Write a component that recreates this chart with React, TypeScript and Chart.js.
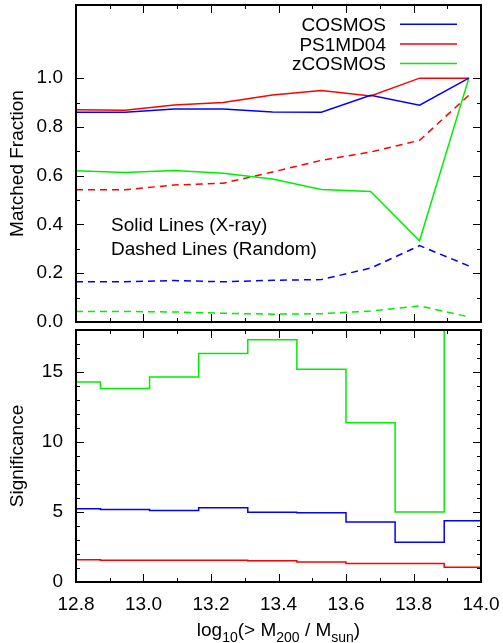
import React, { useEffect, useRef } from 'react';
import { Chart, registerables } from 'chart.js';

Chart.register(...registerables);

const FONT = '"Liberation Sans", Arial, Helvetica, sans-serif';

// bin centres, log10(> M200 / Msun)
const massBins = [12.8, 12.945, 13.091, 13.236, 13.382, 13.527, 13.673, 13.818, 13.964];

const seriesNames = ['COSMOS', 'PS1MD04', 'zCOSMOS'];
const seriesColors = ['#0000ff', '#ff0000', '#00ee00'];

// matched fraction, X-ray (solid)
const cosmosXray = [0.860, 0.860, 0.874, 0.874, 0.861, 0.860, 0.930, 0.889, 1.0];
const ps1Xray = [0.870, 0.868, 0.890, 0.900, 0.931, 0.949, 0.927, 1.0, 1.0];
const zcosmosXray = [0.620, 0.613, 0.621, 0.610, 0.586, 0.543, 0.535, 0.333, 1.0];
// matched fraction, random (dashed)
const cosmosRandom = [0.165, 0.165, 0.170, 0.165, 0.171, 0.174, 0.221, 0.313, 0.230];
const ps1Random = [0.542, 0.542, 0.562, 0.569, 0.615, 0.663, 0.697, 0.745, 0.930];
const zcosmosRandom = [0.043, 0.043, 0.041, 0.036, 0.032, 0.034, 0.045, 0.066, 0.021];

// significance (histogram steps)
const cosmosSig = [5.24, 5.17, 5.10, 5.31, 4.98, 4.95, 4.28, 2.84, 4.38];
const ps1Sig = [1.59, 1.56, 1.56, 1.56, 1.51, 1.42, 1.32, 1.32, 1.06];
const zcosmosSig = [14.28, 13.82, 14.64, 16.32, 17.30, 15.19, 11.37, 5.0, 40];

// tick labels
const massTicks = [12.8, 13.0, 13.2, 13.4, 13.6, 13.8, 14.0];
const massMinorTicks = [12.9, 13.1, 13.3, 13.5, 13.7, 13.9];
const fractionTicks = [0.0, 0.2, 0.4, 0.6, 0.8, 1.0];
const fractionMinorTicks = [0.1, 0.3, 0.5, 0.7, 0.9];
const sigTicks = [0, 5, 10, 15];
const sigMinorTicks = [1, 2, 3, 4, 6, 7, 8, 9, 11, 12, 13, 14, 16, 17];

const noteLines = ['Solid Lines (X-ray)', 'Dashed Lines (Random)'];
const yTitleTop = 'Matched Fraction';
const yTitleBottom = 'Significance';
// [text, isSubscript]
const xTitleParts: [string, boolean][] = [
  ['log', false], ['10', true], ['(> M', false], ['200', true], [' / M', false], ['sun', true], [')', false],
];

function linePoints(values: number[]) {
  return massBins.map((x, i) => ({ x, y: values[i] }));
}

// left edges of each bin (first starts at the first centre), plus closing right edge
function histPoints(values: number[]) {
  const pts: { x: number; y: number }[] = [];
  for (let i = 0; i < massBins.length; i++) {
    const left = i === 0 ? massBins[0] : (massBins[i - 1] + massBins[i]) / 2;
    pts.push({ x: left, y: values[i] });
  }
  const n = massBins.length;
  pts.push({ x: massBins[n - 1] + (massBins[n - 1] - massBins[n - 2]) / 2, y: values[n - 1] });
  return pts;
}

const frameTicks = {
  id: 'frameTicks',
  afterDatasetsDraw(chart: any, _args: any, opts: any) {
    const { ctx, chartArea: a, scales } = chart;
    const xs = scales.x;
    const ys = scales.y;
    ctx.save();
    ctx.strokeStyle = '#000';
    ctx.lineWidth = 1;
    ctx.beginPath();
    const xt = (vals: number[], len: number) => {
      for (const v of vals) {
        const px = Math.round(xs.getPixelForValue(v)) + 0.5;
        ctx.moveTo(px, a.top);
        ctx.lineTo(px, a.top + len);
        ctx.moveTo(px, a.bottom);
        ctx.lineTo(px, a.bottom - len);
      }
    };
    const yt = (vals: number[], len: number) => {
      for (const v of vals) {
        const py = Math.round(ys.getPixelForValue(v)) + 0.5;
        ctx.moveTo(a.left, py);
        ctx.lineTo(a.left + len, py);
        ctx.moveTo(a.right, py);
        ctx.lineTo(a.right - len, py);
      }
    };
    xt(opts.xMajor, 8);
    xt(opts.xMinor, 4);
    yt(opts.yMajor, 8);
    yt(opts.yMinor, 4);
    ctx.stroke();
    ctx.lineWidth = 2;
    ctx.strokeRect(a.left, a.top, a.right - a.left, a.bottom - a.top);
    ctx.restore();
  },
};

const topAnnotations = {
  id: 'topAnnotations',
  afterDraw(chart: any) {
    const { ctx } = chart;
    ctx.save();
    ctx.font = `19px ${FONT}`;
    ctx.fillStyle = '#000';
    ctx.textBaseline = 'alphabetic';
    // legend (text right-aligned, sample line to the right)
    const ds = chart.data.datasets.slice(0, 3);
    ds.forEach((d: any, i: number) => {
      const base = 31 + i * 19.7;
      ctx.textAlign = 'right';
      ctx.fillText(d.label, 386, base);
      ctx.strokeStyle = d.borderColor;
      ctx.lineWidth = 1.5;
      ctx.beginPath();
      ctx.moveTo(400, base - 6.8);
      ctx.lineTo(457, base - 6.8);
      ctx.stroke();
    });
    // notes
    ctx.textAlign = 'left';
    noteLines.forEach((t, i) => {
      ctx.fillText(t, 111, 231 + i * 23.5);
    });
    ctx.restore();
  },
};

const bottomXTitle = {
  id: 'bottomXTitle',
  afterDraw(chart: any) {
    const { ctx, chartArea: a } = chart;
    ctx.save();
    ctx.fillStyle = '#000';
    ctx.textAlign = 'left';
    ctx.textBaseline = 'alphabetic';
    const mainFont = `19px ${FONT}`;
    const subFont = `14px ${FONT}`;
    let total = 0;
    const widths = xTitleParts.map(([t, sub]) => {
      ctx.font = sub ? subFont : mainFont;
      const w = ctx.measureText(t).width;
      total += w;
      return w;
    });
    let x = (a.left + a.right) / 2 - total / 2;
    const base = 310;
    xTitleParts.forEach(([t, sub], i) => {
      ctx.font = sub ? subFont : mainFont;
      ctx.fillText(t, x, sub ? base + 6 : base);
      x += widths[i];
    });
    ctx.restore();
  },
};

const tickFont = { size: 19, family: FONT };

export default function App() {
  const topRef = useRef<HTMLCanvasElement>(null);
  const botRef = useRef<HTMLCanvasElement>(null);

  useEffect(() => {
    document.body.style.margin = '0';
    const solid = [cosmosXray, ps1Xray, zcosmosXray];
    const dashed = [cosmosRandom, ps1Random, zcosmosRandom];
    const topChart = new Chart(topRef.current!, {
      type: 'line',
      data: {
        datasets: [
          ...solid.map((vals, i) => ({
            label: seriesNames[i],
            data: linePoints(vals),
            borderColor: seriesColors[i],
            borderWidth: 1.5,
            pointRadius: 0,
            fill: false,
          })),
          ...dashed.map((vals, i) => ({
            label: seriesNames[i] + ' (Random)',
            data: linePoints(vals),
            borderColor: seriesColors[i],
            borderWidth: 1.5,
            borderDash: [7, 5],
            pointRadius: 0,
            fill: false,
          })),
        ],
      },
      options: {
        responsive: false,
        animation: false,
        layout: { padding: { left: 0, right: 22, top: 5, bottom: 14 } },
        plugins: {
          legend: { display: false },
          tooltip: { enabled: false },
          frameTicks: { xMajor: massTicks, xMinor: massMinorTicks, yMajor: fractionTicks, yMinor: fractionMinorTicks },
        } as any,
        scales: {
          x: { type: 'linear', min: 12.8, max: 14.0, display: false },
          y: {
            type: 'linear',
            min: 0,
            max: 1.3,
            afterBuildTicks: (s: any) => { s.ticks = fractionTicks.map((v) => ({ value: v })); },
            ticks: { callback: (v: any) => Number(v).toFixed(1), font: tickFont, color: '#000', padding: 13 },
            grid: { display: false, drawTicks: false },
            border: { display: false },
            title: { display: true, text: yTitleTop, font: tickFont, color: '#000', padding: { top: 6, bottom: 0 } },
            afterFit: (s: any) => { s.width = 76; s.paddingTop = 0; s.paddingBottom = 0; },
          },
        },
      },
      plugins: [frameTicks, topAnnotations],
    } as any);

    const sigs = [cosmosSig, ps1Sig, zcosmosSig];
    const botChart = new Chart(botRef.current!, {
      type: 'line',
      data: {
        datasets: sigs.map((vals, i) => ({
          label: seriesNames[i],
          data: histPoints(vals),
          borderColor: seriesColors[i],
          borderWidth: 1.5,
          pointRadius: 0,
          stepped: 'before',
          fill: false,
        })),
      },
      options: {
        responsive: false,
        animation: false,
        layout: { padding: { left: 0, right: 22, top: 4, bottom: 0 } },
        plugins: {
          legend: { display: false },
          tooltip: { enabled: false },
          frameTicks: { xMajor: massTicks, xMinor: massMinorTicks, yMajor: sigTicks, yMinor: sigMinorTicks },
        } as any,
        scales: {
          x: {
            type: 'linear',
            min: 12.8,
            max: 14.0,
            afterBuildTicks: (s: any) => { s.ticks = massTicks.map((v) => ({ value: v })); },
            ticks: { callback: (v: any) => Number(v).toFixed(1), font: tickFont, color: '#000', padding: 11, autoSkip: false, maxRotation: 0 },
            grid: { display: false, drawTicks: false },
            border: { display: false },
            afterFit: (s: any) => { s.height = 61; s.paddingLeft = 0; s.paddingRight = 0; },
          },
          y: {
            type: 'linear',
            min: 0,
            max: 18,
            afterBuildTicks: (s: any) => { s.ticks = sigTicks.map((v) => ({ value: v })); },
            ticks: { callback: (v: any) => String(v), font: tickFont, color: '#000', padding: 13 },
            grid: { display: false, drawTicks: false },
            border: { display: false },
            title: { display: true, text: yTitleBottom, font: tickFont, color: '#000', padding: { top: 6, bottom: 0 } },
            afterFit: (s: any) => { s.width = 76; s.paddingTop = 0; s.paddingBottom = 0; },
          },
        },
      },
      plugins: [frameTicks, bottomXTitle],
    } as any);

    return () => {
      topChart.destroy();
      botChart.destroy();
    };
  }, []);

  return (
    <div style={{ position: 'relative', width: 503, height: 643, background: '#fff', overflow: 'hidden' }}>
      <canvas ref={topRef} width={503} height={336} style={{ position: 'absolute', left: 0, top: 0 }} />
      <canvas ref={botRef} width={503} height={317} style={{ position: 'absolute', left: 0, top: 326 }} />
    </div>
  );
}
